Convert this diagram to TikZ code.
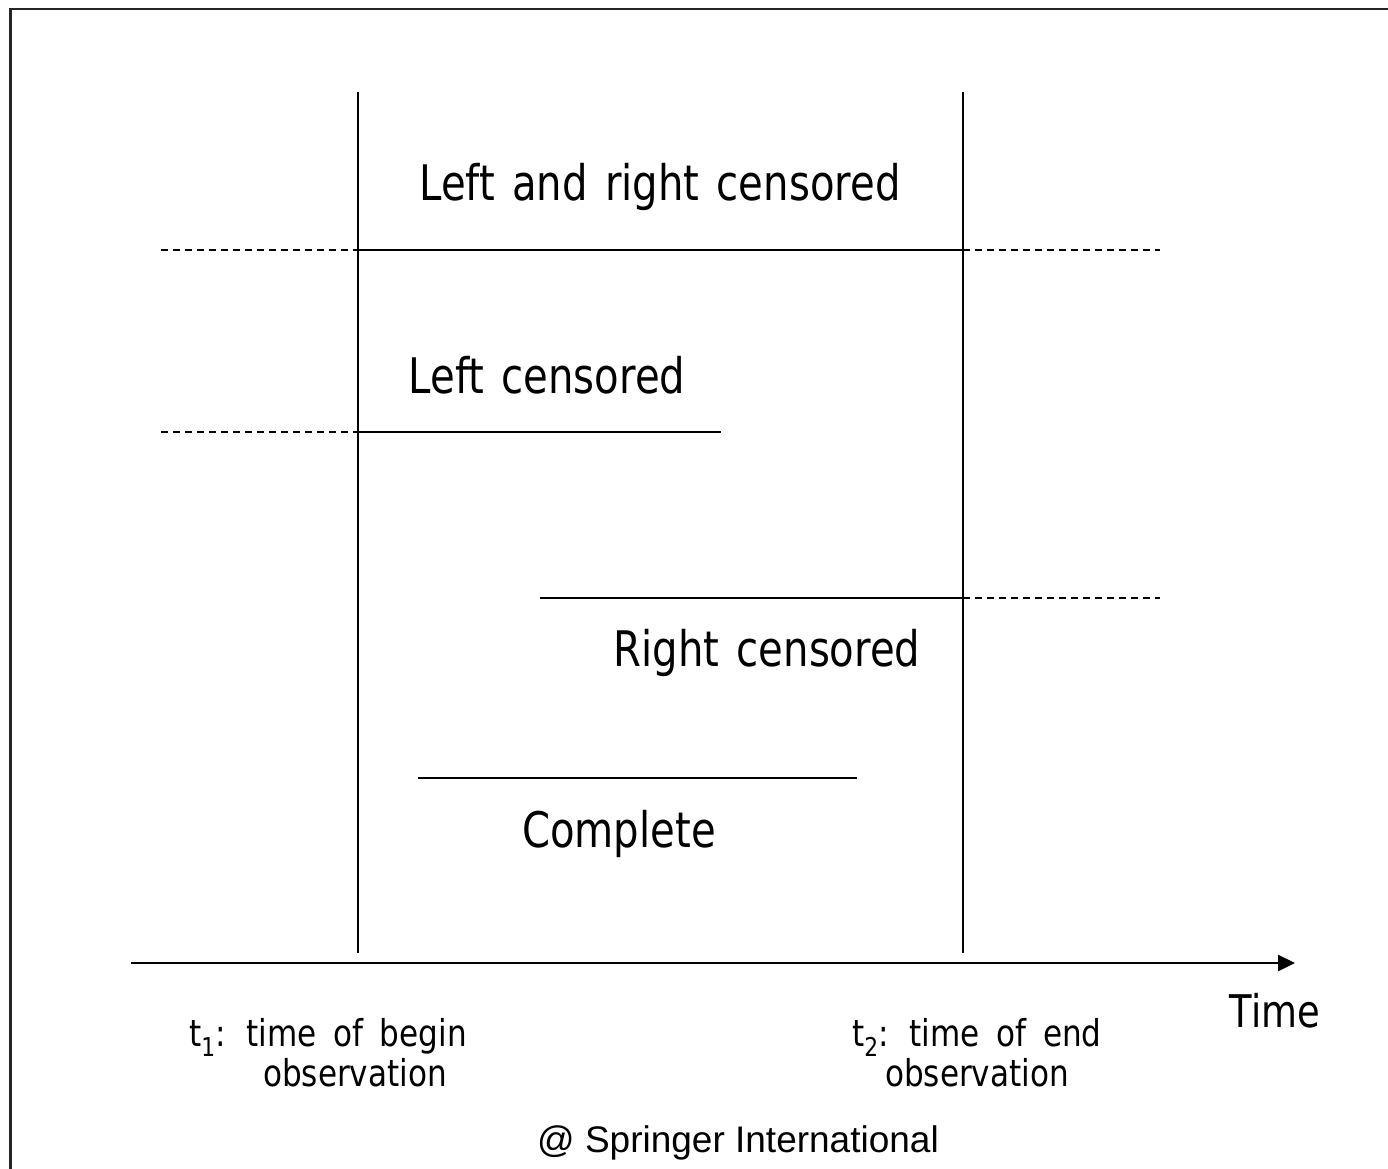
\documentclass[tikz,border=0pt]{standalone}
\usepackage{fontspec}
\newfontfamily\cfont{DejaVu Sans}[FakeStretch=0.82,WordSpace=1.35]
\newfontfamily\sfont{DejaVu Sans}[FakeStretch=0.84,WordSpace=1.7]
\newfontfamily\afont{Liberation Sans}
\usetikzlibrary{arrows.meta}
\begin{document}
\begin{tikzpicture}[x=1pt,y=-1pt,
  solidline/.style={line width=2.4pt,black},
  dashline/.style={line width=2pt,black,dash pattern=on 7pt off 5pt},
  biglabel/.style={font=\cfont\fontsize{49}{56}\selectfont, anchor=base, inner sep=0pt},
  smalllabel/.style={font=\sfont\fontsize{37}{40}\selectfont, anchor=base, inner sep=0pt},
  credit/.style={font=\afont\fontsize{37}{42}\selectfont, anchor=base, inner sep=0pt}]
\useasboundingbox (0,0) rectangle (1388,1168);
\fill[white] (0,0) rectangle (1388,1168);
% frame
\coordinate (fbl) at (10.5,1172);
\coordinate (ftl) at (10.5,9);
\coordinate (ftr) at (1392,9);
\draw[line width=2.8pt, black!85] (fbl) -- (ftl) -- (ftr);
% observation window
\coordinate (v1top) at (358,92);
\coordinate (v1bot) at (358,953);
\coordinate (v2top) at (963,92);
\coordinate (v2bot) at (963,953);
\draw[solidline] (v1top) -- (v1bot);
\draw[solidline] (v2top) -- (v2bot);
% time axis
\coordinate (axL) at (131,963);
\coordinate (axR) at (1295,963);
\draw[solidline, -{Triangle[length=17pt,width=16pt]}] (axL) -- (axR);
% row 1: left and right censored
\coordinate (r1a) at (161,250);
\coordinate (r1b) at (358,250);
\coordinate (r1c) at (963,250);
\coordinate (r1d) at (1160,250);
\draw[dashline] (r1a) -- (r1b);
\draw[solidline] (r1b) -- (r1c);
\draw[dashline] (r1c) -- (r1d);
% row 2: left censored
\coordinate (r2a) at (161,432);
\coordinate (r2b) at (358,432);
\coordinate (r2c) at (721,432);
\draw[dashline] (r2a) -- (r2b);
\draw[solidline] (r2b) -- (r2c);
% row 3: right censored
\coordinate (r3a) at (540,598);
\coordinate (r3b) at (963,598);
\coordinate (r3c) at (1160,598);
\draw[solidline] (r3a) -- (r3b);
\draw[dashline] (r3b) -- (r3c);
% row 4: complete
\coordinate (r4a) at (418,778);
\coordinate (r4b) at (857,778);
\draw[solidline] (r4a) -- (r4b);
% labels
\node[biglabel] (lr) at (660,200) {Left and right censored};
\node[biglabel] (lc) at (547,393) {Left censored};
\node[biglabel] (rc) at (767,666) {Right censored};
\node[biglabel] (cp) at (619,847) {Complete};
\node[smalllabel] (t1a) at (328,1046) {t\textsubscript{1}: time of begin};
\node[smalllabel] (t1b) at (355,1086) {observation};
\node[smalllabel] (t2a) at (977,1046) {t\textsubscript{2}: time of end};
\node[smalllabel] (t2b) at (977,1086) {observation};
\node[font=\cfont\fontsize{45}{50}\selectfont, anchor=base, inner sep=0pt] (time) at (1275,1027) {Time};
\node[credit] (spr) at (738,1152) {@ Springer International};
\end{tikzpicture}
\end{document}
